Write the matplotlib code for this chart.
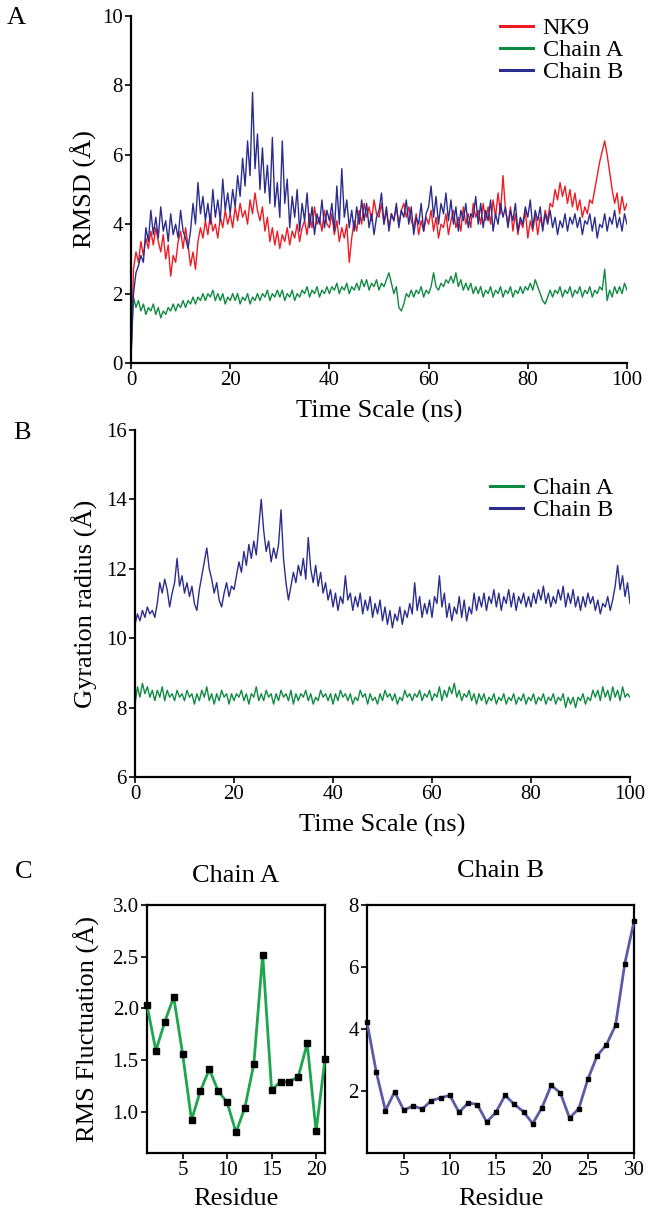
import matplotlib
matplotlib.use("Agg")
import matplotlib.pyplot as plt
import matplotlib.transforms as mtrans
import numpy as np

plt.rcParams["font.family"] = ["Liberation Serif", "DejaVu Serif"]

# ── Data (0.5 ns sampling) ────────────────────────────────────────────────────
time_ns = np.linspace(0, 100, 201)

rmsd_nk9 = [
    0.0, 2.7, 3.2, 2.9, 3.5, 3.1, 3.6, 3.3, 3.8, 3.4, 3.9, 3.5, 3.2, 3.7, 3.0, 3.4, 2.5, 3.1, 2.9, 3.5,
    3.8, 3.3, 3.9, 3.4, 2.8, 3.2, 2.7, 3.5, 3.9, 3.6, 4.1, 3.7, 4.3, 3.8, 4.0, 3.6, 4.2, 3.9, 4.4, 4.0,
    4.3, 3.9, 4.5, 4.1, 4.6, 4.2, 4.4, 4.0, 4.7, 4.3, 4.9, 4.4, 4.1, 4.5, 3.8, 4.2, 3.5, 3.9, 3.4, 3.8,
    3.3, 3.7, 3.5, 3.9, 3.4, 3.8, 3.6, 4.0, 3.5, 3.9, 4.1, 3.7, 4.3, 3.9, 4.5, 4.0, 4.2, 3.8, 4.4, 4.0,
    3.9, 4.3, 3.7, 4.1, 3.5, 3.9, 3.6, 4.0, 2.9, 3.6, 4.1, 3.8, 4.4, 4.0, 4.6, 4.2, 4.5, 4.1, 4.7, 4.3,
    4.2, 4.6, 4.0, 4.4, 3.9, 4.3, 4.1, 4.5, 4.0, 4.4, 4.6, 4.2, 4.5, 4.1, 3.9, 4.3, 3.7, 4.1, 3.8, 4.2,
    4.0, 4.4, 3.8, 4.2, 3.6, 4.0, 3.9, 4.3, 3.7, 4.1, 4.4, 3.9, 4.2, 3.8, 4.5, 4.0, 4.3, 3.9, 4.6, 4.2,
    4.4, 4.0, 4.6, 4.1, 4.5, 4.0, 4.7, 4.2, 4.9, 4.3, 5.4, 4.4, 4.0, 4.5, 3.8, 4.3, 3.7, 4.1, 3.9, 4.4,
    3.6, 4.1, 3.8, 4.3, 3.7, 4.2, 3.9, 4.4, 4.1, 4.6, 4.5, 5.0, 4.7, 5.2, 4.8, 5.1, 4.6, 5.0, 4.5, 4.9,
    4.4, 4.7, 4.2, 4.5, 4.3, 4.7, 4.6, 5.0, 5.4, 5.8, 6.1, 6.4, 6.0, 5.5, 5.0, 4.6, 4.9, 4.3, 4.8, 4.4,
    4.6,
]

rmsd_chain_a = [
    0.2, 1.9, 1.6, 1.8, 1.5, 1.7, 1.4, 1.6, 1.5, 1.7, 1.4, 1.6, 1.3, 1.5, 1.4, 1.6, 1.5, 1.7, 1.5, 1.7,
    1.6, 1.8, 1.6, 1.8, 1.7, 1.9, 1.7, 1.9, 1.8, 2.0, 1.8, 2.0, 1.9, 2.1, 1.8, 2.0, 1.8, 2.0, 1.7, 1.9,
    1.8, 2.0, 1.8, 2.0, 1.7, 1.9, 1.8, 2.0, 1.7, 1.9, 1.8, 2.0, 1.8, 2.0, 1.9, 2.1, 1.8, 2.0, 1.9, 2.1,
    1.9, 2.1, 1.8, 2.0, 1.9, 2.1, 1.8, 2.0, 1.9, 2.1, 2.0, 2.2, 1.9, 2.1, 2.0, 2.2, 1.9, 2.1, 2.0, 2.2,
    2.0, 2.2, 2.1, 2.3, 2.0, 2.2, 2.1, 2.3, 2.0, 2.2, 2.1, 2.3, 2.1, 2.4, 2.2, 2.4, 2.1, 2.3, 2.2, 2.4,
    2.1, 2.3, 2.2, 2.4, 2.6, 2.3, 2.0, 2.2, 1.6, 1.5, 1.7, 2.0, 1.9, 2.1, 1.9, 2.1, 2.0, 2.2, 1.9, 2.1,
    2.0, 2.2, 2.6, 2.2, 2.1, 2.3, 2.2, 2.4, 2.3, 2.5, 2.3, 2.6, 2.2, 2.4, 2.1, 2.3, 2.1, 2.3, 2.0, 2.2,
    2.0, 2.2, 1.9, 2.1, 2.0, 2.2, 1.9, 2.1, 2.0, 2.2, 1.9, 2.1, 2.0, 2.2, 1.9, 2.1, 2.0, 2.2, 2.0, 2.2,
    2.1, 2.3, 2.1, 2.4, 2.2, 2.0, 1.8, 1.7, 1.9, 2.1, 1.9, 2.1, 2.0, 2.2, 1.9, 2.1, 2.0, 2.2, 1.9, 2.1,
    2.0, 2.2, 1.9, 2.1, 2.0, 2.2, 1.9, 2.1, 2.0, 2.2, 2.1, 2.7, 1.8, 2.1, 1.9, 2.2, 2.0, 2.2, 2.0, 2.3,
    2.1,
]

rmsd_chain_b = [
    0.3, 2.0, 2.6, 2.8, 3.1, 2.9, 3.9, 3.5, 4.4, 3.7, 4.2, 3.6, 4.5, 3.8, 4.1, 3.5, 4.3, 3.7, 4.0, 3.6,
    4.4, 3.8, 3.6, 3.3, 3.8, 4.6, 4.0, 5.2, 4.3, 4.8, 4.1, 4.6, 4.0, 5.0, 4.2, 4.7, 4.1, 5.3, 4.4, 4.9,
    4.3, 5.0, 4.5, 5.4, 4.8, 5.9, 5.1, 6.4, 5.4, 7.8, 5.6, 6.6, 5.0, 6.2, 4.9, 5.7, 4.6, 6.5, 4.5, 5.2,
    4.2, 6.4, 4.6, 5.3, 3.9, 4.8, 4.2, 5.0, 3.8, 4.6, 4.1, 4.9, 3.9, 4.5, 3.7, 4.3, 4.0, 4.7, 3.9, 4.4,
    4.1, 4.6, 3.8, 5.1, 4.0, 5.6, 4.2, 4.7, 3.9, 4.4, 3.8, 4.5, 4.0, 4.7, 4.1, 4.6, 3.9, 4.3, 3.7, 4.2,
    4.4, 4.9, 4.0, 4.5, 3.8, 4.3, 4.1, 4.6, 3.9, 4.4, 4.2, 4.7, 4.0, 4.5, 3.7, 4.2, 4.0, 4.6, 3.8, 4.3,
    4.5, 5.1, 4.2, 4.8, 4.0, 4.6, 4.3, 4.9, 4.1, 4.7, 4.0, 4.5, 3.8, 4.4, 4.1, 4.6, 3.9, 4.3, 4.2, 4.8,
    4.0, 4.6, 3.9, 4.4, 4.1, 4.7, 3.8, 4.3, 4.0, 4.6, 4.2, 4.5, 3.9, 4.4, 4.1, 4.6, 3.8, 4.2, 4.0, 4.5,
    4.2, 4.7, 3.9, 4.4, 4.1, 4.5, 3.8, 4.3, 4.0, 4.4, 3.9, 4.2, 3.7, 4.1, 3.9, 4.3, 3.8, 4.2, 4.0, 4.3,
    3.9, 4.2, 3.7, 4.1, 4.0, 4.3, 3.8, 4.2, 3.6, 4.0, 3.9, 4.3, 3.8, 4.2, 4.0, 4.4, 3.9, 4.2, 3.8, 4.3,
    4.0,
]

rg_chain_a = [
    8.1, 8.6, 8.3, 8.7, 8.4, 8.6, 8.3, 8.5, 8.2, 8.5, 8.3, 8.6, 8.2, 8.5, 8.3, 8.4, 8.2, 8.5, 8.3, 8.4,
    8.2, 8.5, 8.3, 8.4, 8.1, 8.4, 8.2, 8.5, 8.3, 8.6, 8.2, 8.4, 8.1, 8.4, 8.2, 8.5, 8.3, 8.4, 8.1, 8.4,
    8.2, 8.4, 8.3, 8.5, 8.2, 8.4, 8.1, 8.4, 8.3, 8.6, 8.2, 8.4, 8.2, 8.5, 8.3, 8.4, 8.1, 8.4, 8.2, 8.5,
    8.3, 8.4, 8.2, 8.5, 8.1, 8.4, 8.2, 8.4, 8.3, 8.5, 8.2, 8.4, 8.1, 8.3, 8.2, 8.5, 8.3, 8.4, 8.2, 8.4,
    8.1, 8.4, 8.2, 8.5, 8.3, 8.4, 8.2, 8.4, 8.1, 8.3, 8.2, 8.5, 8.3, 8.4, 8.1, 8.4, 8.2, 8.3, 8.1, 8.4,
    8.2, 8.5, 8.3, 8.4, 8.2, 8.4, 8.1, 8.3, 8.2, 8.5, 8.3, 8.4, 8.2, 8.4, 8.3, 8.5, 8.2, 8.4, 8.3, 8.5,
    8.2, 8.4, 8.3, 8.6, 8.2, 8.5, 8.3, 8.6, 8.4, 8.7, 8.3, 8.5, 8.2, 8.4, 8.3, 8.5, 8.2, 8.4, 8.1, 8.4,
    8.2, 8.4, 8.1, 8.3, 8.2, 8.4, 8.1, 8.3, 8.2, 8.4, 8.1, 8.3, 8.2, 8.4, 8.1, 8.3, 8.2, 8.4, 8.1, 8.3,
    8.2, 8.4, 8.1, 8.3, 8.2, 8.4, 8.1, 8.3, 8.2, 8.4, 8.1, 8.3, 8.2, 8.4, 8.0, 8.3, 8.1, 8.3, 8.0, 8.3,
    8.2, 8.4, 8.1, 8.3, 8.2, 8.5, 8.3, 8.5, 8.2, 8.6, 8.3, 8.5, 8.2, 8.6, 8.3, 8.5, 8.2, 8.6, 8.3, 8.4,
    8.3,
]

rg_chain_b = [
    10.4, 10.7, 10.5, 10.8, 10.6, 10.9, 10.7, 10.8, 10.6, 11.0, 11.6, 11.3, 11.7, 11.4, 10.9, 11.3, 11.6, 12.3, 11.5, 11.8,
    11.3, 11.6, 11.2, 11.5, 11.0, 10.8, 11.4, 11.8, 12.2, 12.6, 12.0, 11.7, 11.3, 11.6, 11.1, 10.9, 11.3, 11.6, 11.2, 11.5,
    11.4, 11.8, 12.2, 11.9, 12.5, 12.1, 12.7, 12.3, 12.8, 12.4, 13.2, 14.0, 13.1, 12.5, 12.8, 12.2, 12.6, 12.3, 12.7, 13.7,
    12.3, 11.6, 11.1, 11.5, 11.9, 11.6, 12.1, 11.8, 12.3, 11.7, 12.9, 12.0, 11.6, 12.1, 11.5, 11.9, 11.3, 11.6, 11.1, 11.4,
    10.9, 11.3, 10.8, 11.2, 11.0, 11.8, 11.1, 11.3, 10.8, 11.2, 10.9, 11.3, 10.7, 11.1, 10.8, 11.2, 10.6, 11.0, 10.7, 11.1,
    10.5, 10.9, 10.4, 10.8, 10.3, 10.7, 10.5, 10.9, 10.4, 10.8, 10.6, 11.0, 10.7, 11.6, 10.8, 11.2, 10.6, 11.0, 10.7, 11.1,
    10.6, 11.2, 11.0, 11.8, 10.9, 11.3, 10.6, 11.0, 10.5, 10.9, 10.7, 11.2, 10.6, 11.1, 10.5, 10.9, 10.7, 11.3, 10.8, 11.2,
    10.9, 11.3, 10.8, 11.2, 11.0, 11.4, 10.9, 11.3, 10.8, 11.2, 11.0, 11.4, 10.9, 11.3, 10.8, 11.2, 11.0, 11.3, 10.9, 11.2,
    10.9, 11.3, 11.0, 11.4, 11.1, 11.5, 11.0, 11.3, 10.9, 11.2, 11.0, 11.4, 11.1, 11.5, 10.9, 11.3, 11.0, 11.4, 10.9, 11.2,
    10.8, 11.2, 10.9, 11.3, 11.0, 11.2, 10.8, 11.1, 10.7, 11.0, 10.9, 11.2, 10.8, 11.1, 11.5, 12.1, 11.4, 11.8, 11.2, 11.6,
    11.0,
]

residues_a = list(range(1, 22))
rmsf_a = [2.03, 1.59, 1.87, 2.11, 1.56, 0.92, 1.20, 1.41, 1.20, 1.09, 0.80,
          1.04, 1.46, 2.52, 1.21, 1.29, 1.29, 1.34, 1.66, 0.81, 1.51]

residues_b = list(range(1, 31))
rmsf_b = [4.22, 2.62, 1.37, 1.97, 1.38, 1.52, 1.42, 1.69, 1.78, 1.86,
          1.31, 1.62, 1.56, 1.00, 1.31, 1.86, 1.57, 1.33, 0.95, 1.46,
          2.18, 1.94, 1.13, 1.43, 2.39, 3.14, 3.49, 4.12, 6.11, 7.47]

# ── Style ─────────────────────────────────────────────────────────────────────
RED, GREEN, NAVY = "#ed1c24", "#0f8a42", "#2b2d8e"
W, H = 652, 1211
TICK_FS, LABEL_FS, LEG_FS = 15, 19, 17.5
TRACE_LW = 1.0

fig = plt.figure(figsize=(W / 100, H / 100), dpi=100)


def px_axes(x0, y0, x1, y1):
    """Axes from pixel box (left, top, right, bottom)."""
    return fig.add_axes([x0 / W, 1 - y1 / H, (x1 - x0) / W, (y1 - y0) / H])


def style(ax, box=False):
    ax.spines["top"].set_visible(box)
    ax.spines["right"].set_visible(box)
    for sp in ax.spines.values():
        sp.set_linewidth(1.6)
    ax.tick_params(direction="out", length=4, width=1.2, labelsize=TICK_FS, pad=2,
                   top=False, right=False)


def set_xlabel_top(ax, text, top_px):
    ax.set_xlabel(text, fontsize=LABEL_FS)
    ax.xaxis.set_label_coords(0.5, 1 - top_px / H,
                              transform=mtrans.blended_transform_factory(ax.transAxes, fig.transFigure))


def set_ylabel_right(ax, text, right_px):
    ax.set_ylabel(text, fontsize=LABEL_FS)
    ax.yaxis.set_label_coords(right_px / W, 0.5,
                              transform=mtrans.blended_transform_factory(fig.transFigure, ax.transAxes))


def legend(ax, left_px, top_px):
    leg = ax.legend(loc="upper left", bbox_to_anchor=(left_px / W, 1 - top_px / H),
                    bbox_transform=fig.transFigure, frameon=False, fontsize=LEG_FS,
                    handlelength=1.35, handletextpad=0.4, labelspacing=0.0,
                    borderpad=0, borderaxespad=0)
    for ln in leg.get_lines():
        ln.set_linewidth(2.2)


# ── Panel A: RMSD ─────────────────────────────────────────────────────────────
axA = px_axes(131, 16, 627, 363)
axA.plot(time_ns, rmsd_nk9, color=RED, lw=TRACE_LW, label="NK9")
axA.plot(time_ns, rmsd_chain_a, color=GREEN, lw=TRACE_LW, label="Chain A")
axA.plot(time_ns, rmsd_chain_b, color=NAVY, lw=TRACE_LW, label="Chain B")
axA.set_xlim(0, 100)
axA.set_ylim(0, 10)
axA.set_xticks(range(0, 101, 20))
axA.set_yticks(range(0, 11, 2))
style(axA)
set_xlabel_top(axA, "Time Scale (ns)", 400)
set_ylabel_right(axA, "RMSD (Å)", 97)
legend(axA, 500, 17)

# ── Panel B: radius of gyration ───────────────────────────────────────────────
axB = px_axes(135, 430, 630, 777)
axB.plot(time_ns, rg_chain_a, color=GREEN, lw=TRACE_LW, label="Chain A")
axB.plot(time_ns, rg_chain_b, color=NAVY, lw=TRACE_LW, label="Chain B")
axB.set_xlim(0, 100)
axB.set_ylim(6, 16)
axB.set_xticks(range(0, 101, 20))
axB.set_yticks(range(6, 17, 2))
style(axB)
set_xlabel_top(axB, "Time Scale (ns)", 814)
set_ylabel_right(axB, "Gyration radius (Å)", 98)
legend(axB, 490, 477)

# ── Panel C: RMSF ─────────────────────────────────────────────────────────────
axC1 = px_axes(147, 905, 325, 1153)
axC1.plot(residues_a, rmsf_a, color="#1ea64e", lw=2, marker="s", ms=5,
          mfc="black", mec="black", clip_on=False, zorder=3)
axC1.set_xlim(1, 21)
axC1.set_ylim(0.6, 3.0)
axC1.set_xticks([5, 10, 15, 20])
axC1.set_yticks([1.0, 1.5, 2.0, 2.5, 3.0])
axC1.set_yticklabels(["1.0", "1.5", "2.0", "2.5", "3.0"])
style(axC1, box=True)
set_xlabel_top(axC1, "Residue", 1188)
set_ylabel_right(axC1, "RMS Fluctuation (Å)", 100)
axC1.set_title("Chain A", fontsize=LABEL_FS, pad=16.5)

axC2 = px_axes(367, 905, 634, 1153)
axC2.plot(residues_b, rmsf_b, color="#5a5ca8", lw=2, marker="s", ms=3.2,
          mfc="black", mec="black", clip_on=False, zorder=3)
axC2.set_xlim(1, 30)
axC2.set_ylim(0, 8)
axC2.set_xticks([5, 10, 15, 20, 25, 30])
axC2.set_yticks([2, 4, 6, 8])
style(axC2, box=True)
set_xlabel_top(axC2, "Residue", 1188)
axC2.set_title("Chain B", fontsize=LABEL_FS, pad=20)

# panel letters
for letter, lx, ly in [("A", 7, 7), ("B", 13, 422), ("C", 15, 861)]:
    fig.text(lx / W, 1 - ly / H, letter, fontsize=LABEL_FS, ha="left", va="top")

fig.savefig("out.png", dpi=100)
